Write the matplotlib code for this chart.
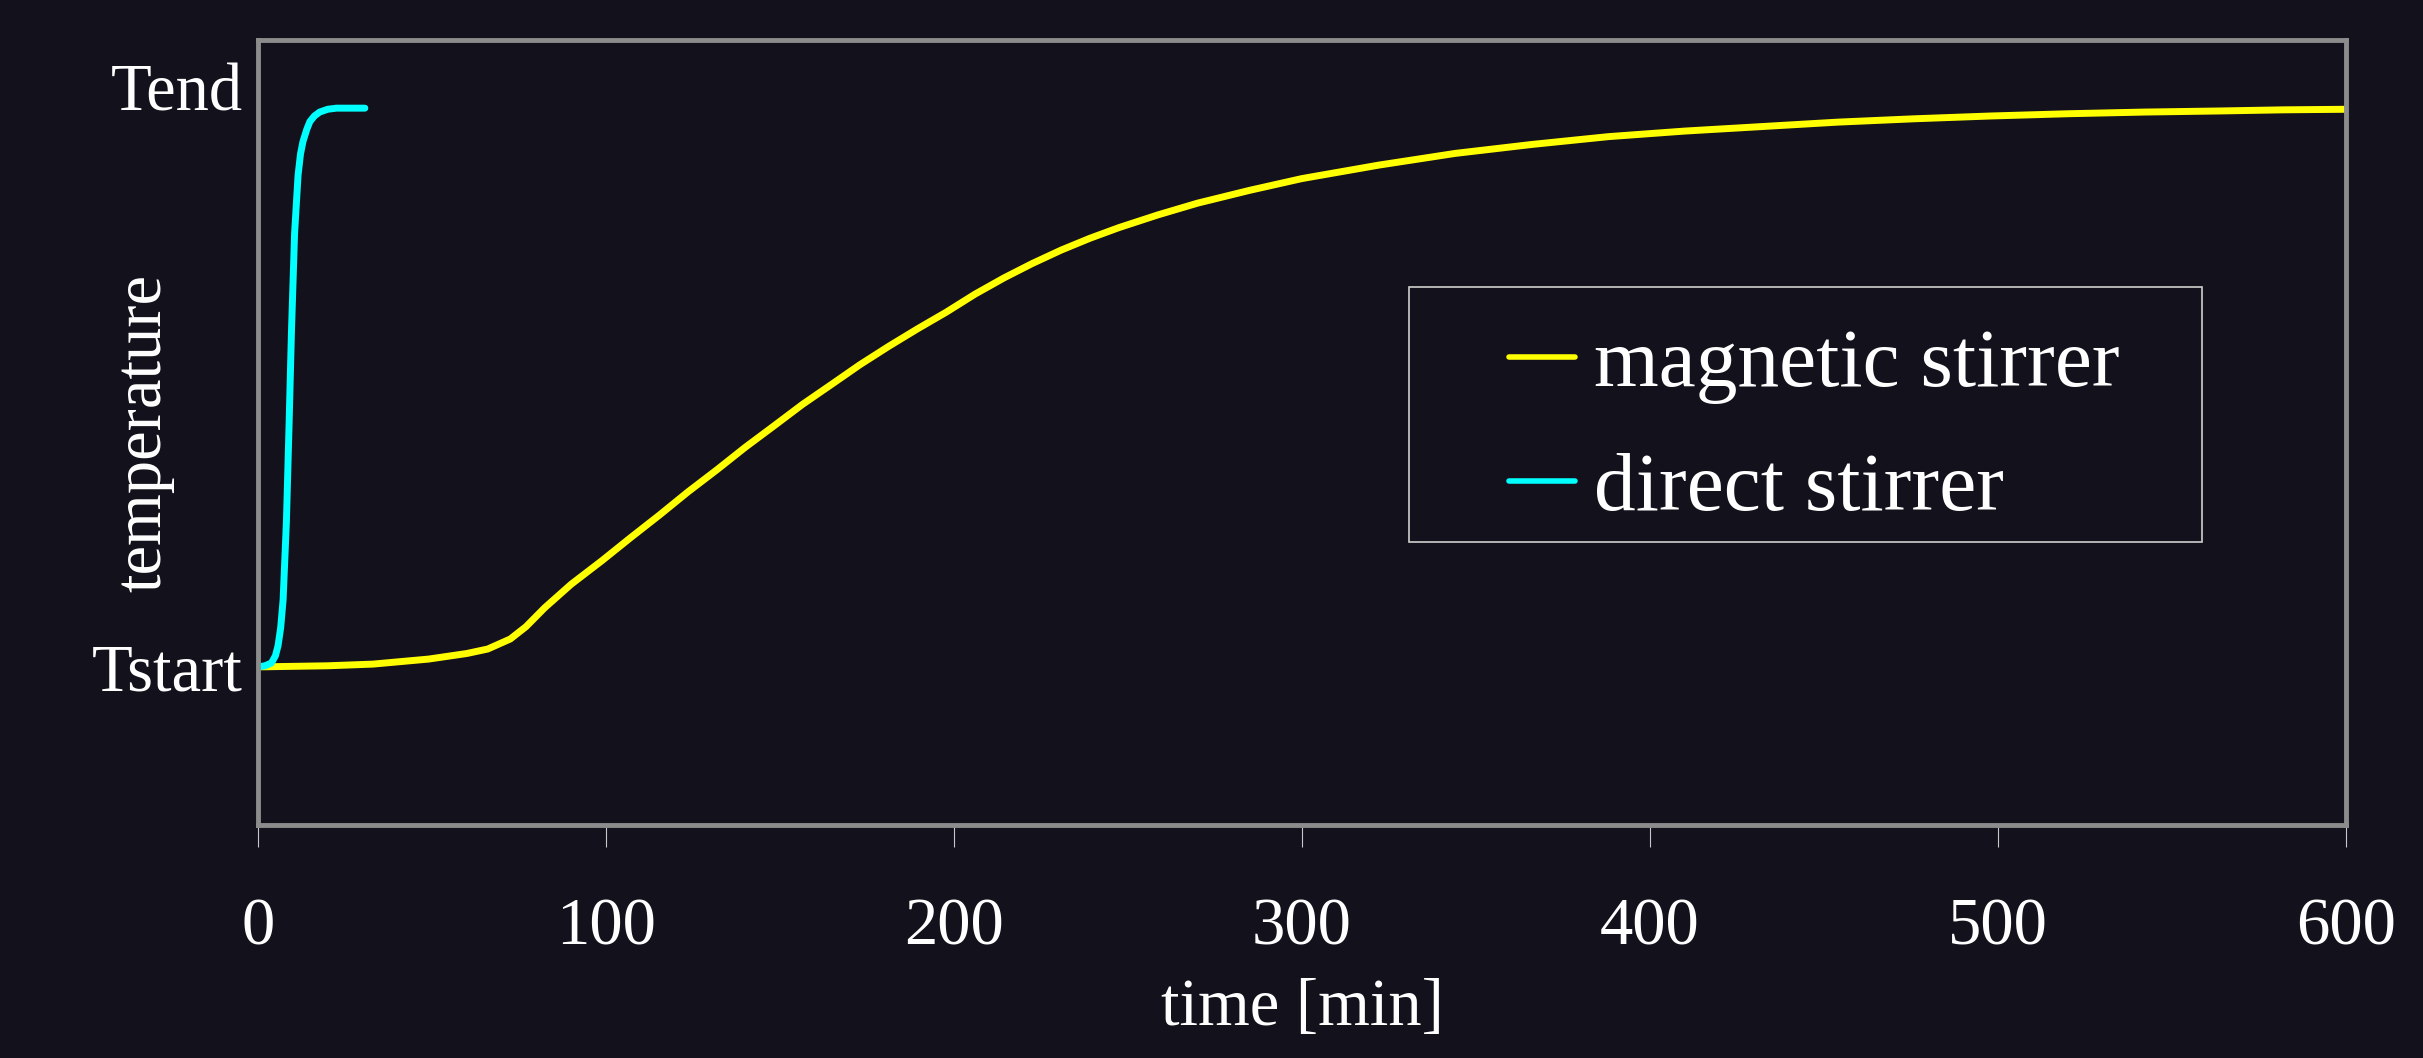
import matplotlib
matplotlib.use("Agg")
import matplotlib.pyplot as plt
from matplotlib.patches import Rectangle

# data (time in min, temperature normalised Tstart=0)
magnetic_time = [0, 10, 20, 33, 49, 60, 66, 72.5, 77, 82.4, 90, 98.8, 107, 115.4, 123.5,
                 131.9, 140, 148.4, 156.5, 164.9, 173, 181.3, 189.5, 197.8, 206, 214.3,
                 222.5, 230.8, 239, 247.3, 258.6, 270, 285, 300, 322, 344, 366, 388,
                 410, 432, 454, 476, 498, 520, 542, 564, 582, 600]
magnetic_temp = [0.0, 0.001, 0.002, 0.005, 0.014, 0.024, 0.032, 0.050, 0.072, 0.106, 0.148,
                 0.190, 0.231, 0.272, 0.313, 0.353, 0.393, 0.432, 0.470, 0.506, 0.541,
                 0.574, 0.605, 0.635, 0.667, 0.696, 0.722, 0.746, 0.767, 0.786, 0.809,
                 0.830, 0.853, 0.874, 0.898, 0.919, 0.935, 0.949, 0.959, 0.967, 0.975,
                 0.981, 0.986, 0.990, 0.993, 0.995, 0.997, 0.998]

direct_time = [0, 2, 3.85, 5, 5.75, 6.5, 7.2, 8.15, 8.9, 9.6, 10.5, 11.5, 12.2, 12.9,
               14.0, 14.9, 16.2, 17.7, 20, 22.5, 26, 30.7]
direct_temp = [0.0, 0.002, 0.007, 0.020, 0.038, 0.070, 0.120, 0.260, 0.430, 0.600, 0.776,
               0.880, 0.918, 0.940, 0.962, 0.976, 0.986, 0.993, 0.998, 1.0, 1.0, 1.0]

x_ticks = [0, 100, 200, 300, 400, 500, 600]
y_ticks = [0, 1.037]
y_tick_labels = ["Tstart", "Tend"]
series_labels = ["magnetic stirrer", "direct stirrer"]

bg = "#13111c"
plt.rcParams["font.family"] = ["Liberation Serif", "DejaVu Serif"]

fig = plt.figure(figsize=(24.23, 10.58), dpi=100, facecolor=bg)
ax = fig.add_axes([0.1065, 0.2202, 0.9682 - 0.1065, 0.9622 - 0.2202], facecolor=bg)

ax.plot(magnetic_time, magnetic_temp, color="#ffff00", lw=5,
        solid_capstyle="round", label=series_labels[0])
ax.plot(direct_time, direct_temp, color="#00ffff", lw=5,
        solid_capstyle="round", label=series_labels[1])

ax.set_xlim(0, 600)
ax.set_ylim(-0.283, 1.122)
ax.set_xticks(x_ticks)
ax.set_yticks(y_ticks)
ax.set_yticklabels(y_tick_labels)

for side in ["top", "right", "left", "bottom"]:
    ax.spines[side].set_color("#8c8c8c")
    ax.spines[side].set_linewidth(3.5)

ax.tick_params(axis="x", direction="out", length=16, width=0.8, color="#c8c8c8",
               labelsize=48, labelcolor="white", pad=36)
ax.tick_params(axis="y", length=0, labelsize=48, labelcolor="white", pad=11)

ax.set_xlabel("time [min]", fontsize=48, color="white")
ax.xaxis.label.set_verticalalignment("baseline")
ax.xaxis.set_label_coords(0.5, -0.255)
ax.set_ylabel("temperature", fontsize=48, color="white")
ax.yaxis.set_label_coords(-0.040, 0.5)

# legend box
ax.add_patch(Rectangle((0.5513, 0.3605), 0.931 - 0.5513, 0.6854 - 0.3605,
                       transform=ax.transAxes, fill=False, edgecolor="#d0d0d0",
                       lw=1.2, zorder=5))
leg = ax.legend(loc="upper left", bbox_to_anchor=(0.599, 0.633), frameon=False,
                fontsize=60, handlelength=0.8, handletextpad=0.22,
                labelspacing=0.57, borderpad=0, borderaxespad=0)
for t in leg.get_texts():
    t.set_color("white")
for h in leg.get_lines():
    h.set_linewidth(4)

fig.savefig("out.png", dpi=100, facecolor=bg)
